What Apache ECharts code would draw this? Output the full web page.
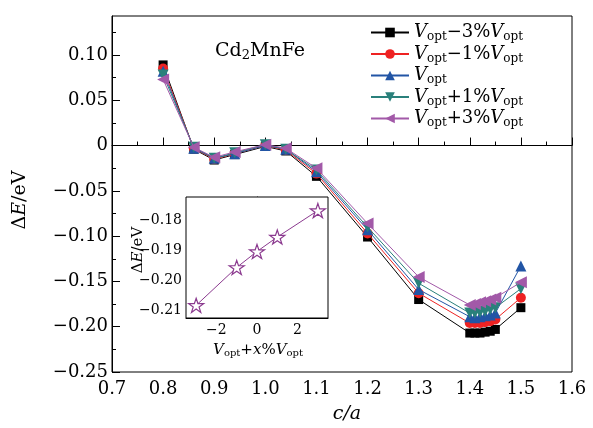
<!DOCTYPE html>
<html>
<head>
<meta charset="utf-8">
<script src="https://cdn.jsdelivr.net/npm/echarts@6/dist/echarts.min.js"></script>
<style>html,body{margin:0;padding:0;background:#fff}#c{width:593px;height:428px}</style>
</head>
<body>
<div id="c"></div>
<script>
// ---- data ----
const cOverA = [0.8, 0.86, 0.9, 0.94, 1.0, 1.04, 1.1, 1.2, 1.3, 1.4, 1.41, 1.42, 1.43, 1.44, 1.45, 1.5];
const dEminus3 = [0.089, -0.004, -0.016, -0.010, -0.001, -0.006, -0.034, -0.101, -0.170, -0.207, -0.207, -0.207, -0.206, -0.205, -0.203, -0.179];
const dEminus1 = [0.085, -0.003, -0.015, -0.009, 0.000, -0.005, -0.031, -0.097, -0.163, -0.196, -0.196, -0.196, -0.195, -0.194, -0.192, -0.168];
const dEopt    = [0.082, -0.003, -0.014, -0.009, 0.000, -0.004, -0.029, -0.093, -0.159, -0.189, -0.190, -0.189, -0.188, -0.187, -0.185, -0.133];
const dEplus1  = [0.078, -0.002, -0.014, -0.008, 0.001, -0.004, -0.027, -0.090, -0.152, -0.185, -0.185, -0.184, -0.183, -0.181, -0.179, -0.158];
const dEplus3  = [0.073, -0.002, -0.013, -0.007, 0.001, -0.003, -0.025, -0.086, -0.145, -0.176, -0.175, -0.173, -0.172, -0.170, -0.168, -0.151];
const seriesNames = ['Vopt−3%Vopt', 'Vopt−1%Vopt', 'Vopt', 'Vopt+1%Vopt', 'Vopt+3%Vopt'];
const insetX = [-3, -1, 0, 1, 3];
const insetMin = [-0.2082, -0.1956, -0.1903, -0.1855, -0.1767];
const mainYTicks = [-0.25, -0.20, -0.15, -0.10, -0.05, 0, 0.05, 0.10];
const mainYMinor = [-0.225, -0.175, -0.125, -0.075, -0.025, 0.025, 0.075, 0.125];
const insetYTicks = [-0.21, -0.20, -0.19, -0.18];
const insetYMinor = [-0.205, -0.195, -0.185, -0.175];
const insetXTicks = [-2, 0, 2];
const insetXMinor = [-3, -1, 1, 3];

const F = 'DejaVu Serif';
const minus = s => s.replace('-', '\u2212');
const pairs = ys => cOverA.map((x, i) => [x, ys[i]]);
const legendRich = {
  i: {fontFamily: F, fontStyle: 'italic', fontSize: 18, color: '#000', lineHeight: 19},
  s: {fontFamily: F, fontSize: 12, color: '#000', padding: [9, 0, 0, 0], lineHeight: 10},
  t: {fontFamily: F, fontSize: 18, color: '#000', lineHeight: 19}
};
const legendText = {
  'Vopt−3%Vopt': '{i|V}{s|opt}{t|\u22123%}{i|V}{s|opt}',
  'Vopt−1%Vopt': '{i|V}{s|opt}{t|\u22121%}{i|V}{s|opt}',
  'Vopt': '{i|V}{s|opt}',
  'Vopt+1%Vopt': '{i|V}{s|opt}{t|+1%}{i|V}{s|opt}',
  'Vopt+3%Vopt': '{i|V}{s|opt}{t|+3%}{i|V}{s|opt}'
};
const styles = [
  {color: '#000000', symbol: 'rect', size: 9, rot: 0},
  {color: '#ee2222', symbol: 'circle', size: 10, rot: 0},
  {color: '#2255a5', symbol: 'triangle', size: 11, rot: 0},
  {color: '#2a807b', symbol: 'triangle', size: 11, rot: 180},
  {color: '#a259a8', symbol: 'triangle', size: 12, rot: 90}
];
const allY = [dEminus3, dEminus1, dEopt, dEplus1, dEplus3];
const star = 'path://M50,0 L61.8,35.1 L98.9,35.1 L69,56.7 L80.2,91.9 L50,70.2 L19.8,91.9 L31,56.7 L1.1,35.1 L38.2,35.1 Z';

const series = allY.map((ys, k) => ({
  name: seriesNames[k], type: 'line', xAxisIndex: 0, yAxisIndex: 0,
  data: pairs(ys), symbol: styles[k].symbol, symbolSize: styles[k].size, symbolRotate: styles[k].rot,
  lineStyle: {color: styles[k].color, width: 1}, itemStyle: {color: styles[k].color},
  showAllSymbol: true, z: 3 + k
}));
series.unshift({
  name: 'zero', type: 'line', xAxisIndex: 0, yAxisIndex: 0, data: [], silent: true,
  markLine: {silent: true, symbol: 'none', label: {show: false}, animation: false,
    lineStyle: {color: '#000', width: 1, type: 'solid'}, data: [{yAxis: 0}]}, z: 2
});
series.push({
  name: 'inset', type: 'line', xAxisIndex: 1, yAxisIndex: 2,
  data: insetX.map((x, i) => [x, insetMin[i]]), symbol: star, symbolSize: 15, symbolKeepAspect: true,
  lineStyle: {color: '#8b3a8f', width: 1}, itemStyle: {color: '#ffffff', borderColor: '#8b3a8f', borderWidth: 1.2}, z: 20
});

const chart = echarts.init(document.getElementById('c'), null, {renderer: 'canvas'});
chart.setOption({
  animation: false,
  backgroundColor: '#fff',
  grid: [
    {left: 112, top: 16, width: 460, height: 356, show: true, borderColor: '#000', borderWidth: 1, backgroundColor: 'transparent', z: 0},
    {left: 186, top: 197, width: 142, height: 121, show: true, borderColor: '#000', borderWidth: 1, backgroundColor: '#fff', z: 10}
  ],
  legend: {
    data: seriesNames, orient: 'vertical', left: 365, top: 17, itemWidth: 38, itemHeight: 12, itemGap: 0.5,
    formatter: n => legendText[n], textStyle: {rich: legendRich, lineHeight: 19}, inactiveColor: '#ccc'
  },
  xAxis: [
    {type: 'value', gridIndex: 0, min: 0.7, max: 1.6, interval: 0.1,
     axisLine: {lineStyle: {color: '#000', width: 1}}, splitLine: {show: false},
     axisTick: {inside: true, length: 8, lineStyle: {color: '#000'}},
     minorTick: {show: true, splitNumber: 2, length: 4, lineStyle: {color: '#000'}},
     axisLabel: {fontFamily: F, fontSize: 18, color: '#000', margin: 8, formatter: v => v.toFixed(1)}},
    {type: 'value', gridIndex: 1, min: -3.5, max: 3.5,
     axisLine: {lineStyle: {color: '#000', width: 1}}, splitLine: {show: false},
     axisTick: {inside: true, length: 5, customValues: insetXTicks, lineStyle: {color: '#000'}},
     axisLabel: {fontFamily: F, fontSize: 14, color: '#000', margin: 5, customValues: insetXTicks, formatter: v => minus(String(v))}},
    {type: 'value', gridIndex: 1, min: -3.5, max: 3.5, position: 'bottom',
     axisLine: {show: false}, splitLine: {show: false}, axisLabel: {show: false},
     axisTick: {inside: true, length: 3, customValues: insetXMinor, lineStyle: {color: '#000'}}}
  ],
  yAxis: [
    {type: 'value', gridIndex: 0, min: -0.25, max: 0.143,
     axisLine: {lineStyle: {color: '#000', width: 1}}, splitLine: {show: false},
     axisTick: {inside: true, length: 8, customValues: mainYTicks, lineStyle: {color: '#000'}},
     axisLabel: {fontFamily: F, fontSize: 18, color: '#000', margin: 4, customValues: mainYTicks,
       formatter: v => Math.abs(v) < 1e-9 ? '0' : minus(v.toFixed(2))}},
    {type: 'value', gridIndex: 0, min: -0.25, max: 0.143, position: 'left',
     axisLine: {show: false}, splitLine: {show: false}, axisLabel: {show: false},
     axisTick: {inside: true, length: 4, customValues: mainYMinor, lineStyle: {color: '#000'}}},
    {type: 'value', gridIndex: 1, min: -0.2124, max: -0.1722,
     axisLine: {lineStyle: {color: '#000', width: 1}}, splitLine: {show: false},
     axisTick: {inside: true, length: 5, customValues: insetYTicks, lineStyle: {color: '#000'}},
     axisLabel: {fontFamily: F, fontSize: 14, color: '#000', margin: 4, customValues: insetYTicks,
       formatter: v => minus(v.toFixed(2))}},
    {type: 'value', gridIndex: 1, min: -0.2124, max: -0.1722, position: 'left',
     axisLine: {show: false}, splitLine: {show: false}, axisLabel: {show: false},
     axisTick: {inside: true, length: 3, customValues: insetYMinor, lineStyle: {color: '#000'}}}
  ],
  graphic: [
    {type: 'text', x: 20, y: 200, rotation: Math.PI / 2, z: 50,
     style: {text: '\u0394{i|E}/eV', font: '19px "DejaVu Serif"', fill: '#000', align: 'center', verticalAlign: 'middle',
       rich: {i: {fontFamily: F, fontStyle: 'italic', fontSize: 19, fill: '#000'}}}},
    {type: 'text', x: 347, y: 414, z: 50,
     style: {text: 'c/a', font: 'italic 19px "DejaVu Serif"', fill: '#000', align: 'center', verticalAlign: 'middle'}},
    {type: 'text', x: 260, y: 51, z: 50,
     style: {text: 'Cd{s|2}MnFe', font: '19px "DejaVu Serif"', fill: '#000', align: 'center', verticalAlign: 'middle',
       rich: {s: {fontFamily: F, fontSize: 13, fill: '#000', padding: [9, 0, 0, 0]}}}},
    {type: 'text', x: 138, y: 250, rotation: Math.PI / 2, z: 50,
     style: {text: '\u0394{i|E}/eV', font: '15px "DejaVu Serif"', fill: '#000', align: 'center', verticalAlign: 'middle',
       rich: {i: {fontFamily: F, fontStyle: 'italic', fontSize: 15, fill: '#000'}}}},
    {type: 'text', x: 258, y: 350, z: 50,
     style: {text: '{i|V}{s|opt}+{i|x}%{i|V}{s|opt}', font: '15px "DejaVu Serif"', fill: '#000', align: 'center', verticalAlign: 'middle',
       rich: {i: {fontFamily: F, fontStyle: 'italic', fontSize: 15, fill: '#000'},
              s: {fontFamily: F, fontSize: 10, fill: '#000', padding: [7, 0, 0, 0]}}}}
  ],
  series: series
});
</script>
</body>
</html>
